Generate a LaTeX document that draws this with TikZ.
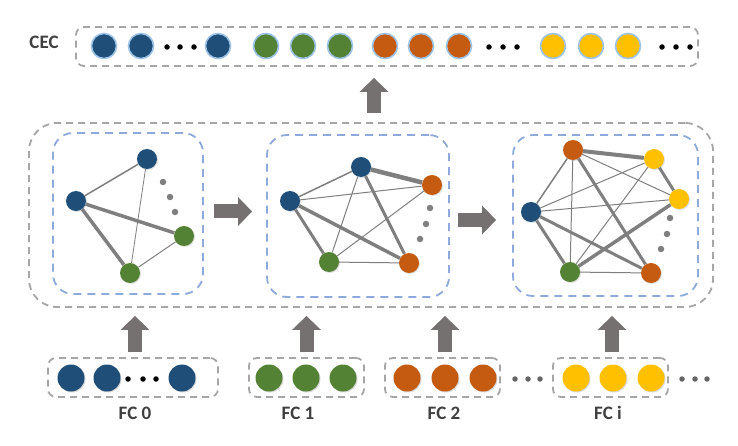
\documentclass[tikz,border=0pt]{standalone}
\usepackage{fontspec}
\setmainfont{Carlito}
\usetikzlibrary{shadows,arrows.meta,calc}
\definecolor{cblue}{HTML}{1F4E79}
\definecolor{cgreen}{HTML}{548235}
\definecolor{corange}{HTML}{C55A11}
\definecolor{cyellow}{HTML}{FFC000}
\definecolor{arrowgray}{HTML}{767171}
\definecolor{dashgray}{HTML}{A6A6A6}
\definecolor{dashblue}{HTML}{8EA9DB}
\definecolor{edgegray}{HTML}{7F7F7F}
\definecolor{glowc}{HTML}{9DC3E6}
\definecolor{txt}{HTML}{3F3F3F}
\tikzset{
  graybox/.style={draw=dashgray, line width=1.8pt, dash pattern=on 7pt off 5pt, rectangle, inner sep=0pt},
  bluebox/.style={draw=dashblue, line width=1.8pt, dash pattern=on 8pt off 6pt, rectangle, rounded corners=20pt, inner sep=0pt},
  ceccirc/.style={circle, minimum size=25pt, inner sep=0pt, draw=glowc, line width=1.6pt},
  fccirc/.style={circle, minimum size=27pt, inner sep=0pt, drop shadow={opacity=0.3, shadow xshift=1pt, shadow yshift=-1pt}},
  gnode/.style={circle, minimum size=20pt, inner sep=0pt, drop shadow={opacity=0.25, shadow xshift=1pt, shadow yshift=-1pt}},
  bdot/.style={circle, fill=black, minimum size=5.5pt, inner sep=0pt},
  gdot/.style={circle, fill=edgegray, minimum size=6.5pt, inner sep=0pt},
  edge/.style={draw=edgegray, line width=#1},
  blockarrow/.style={draw=arrowgray, line width=14pt, -{Triangle[width=28pt,length=14pt]}},
  lbl/.style={text=txt, font=\fontsize{19}{22}\selectfont\bfseries},
}
\begin{document}
\begin{tikzpicture}[x=1pt, y=-1pt]
\useasboundingbox (0,0) rectangle (738,446);

% CEC row
\node[lbl] (ceclbl) at (44,42) {CEC};
\node[graybox, rounded corners=8pt, minimum width=622pt, minimum height=39pt] (cec) at (387,46.5) {};
\foreach \x [count=\i] in {104,141,218}
  \node[ceccirc, fill=cblue] (cb\i) at (\x,46) {};
\foreach \x [count=\i] in {266,303,340}
  \node[ceccirc, fill=cgreen] (cg\i) at (\x,46) {};
\foreach \x [count=\i] in {385,421,459}
  \node[ceccirc, fill=corange] (co\i) at (\x,46) {};
\foreach \x [count=\i] in {553,591,628}
  \node[ceccirc, fill=cyellow] (cy\i) at (\x,46) {};
\foreach \x [count=\i] in {167,180,194,489,503,517,662,676,690}
  \node[bdot] (cd\i) at (\x,47) {};

% outer box and inner boxes
\node[graybox, rounded corners=28pt, minimum width=684pt, minimum height=184pt] (outer) at (371,215) {};
\node[bluebox, minimum width=150pt, minimum height=161pt] (box1) at (128,213.5) {};
\node[bluebox, minimum width=182pt, minimum height=162pt] (box2) at (358,216) {};
\node[bluebox, minimum width=185pt, minimum height=161pt] (box3) at (605.5,215.5) {};

% graph 1
\node[gnode, fill=cblue] (b1t) at (147,159) {};
\node[gnode, fill=cblue] (b1l) at (76,201) {};
\node[gnode, fill=cgreen] (g1r) at (184,236) {};
\node[gnode, fill=cgreen] (g1b) at (130,273) {};
\node[gdot] (d1a) at (163,182) {};
\node[gdot] (d1b) at (170,197) {};
\node[gdot] (d1c) at (175,212) {};
\draw[edge=1.5pt] (b1t) -- (b1l);
\draw[edge=0.8pt] (b1t) -- (g1b);
\draw[edge=3.5pt] (b1l) -- (g1r);
\draw[edge=3.5pt] (b1l) -- (g1b);
\draw[edge=1pt] (g1r) -- (g1b);

% graph 2
\node[gnode, fill=cblue] (b2t) at (361,167) {};
\node[gnode, fill=cblue] (b2l) at (290,201) {};
\node[gnode, fill=corange] (o2t) at (432,185) {};
\node[gnode, fill=corange] (o2b) at (409,263) {};
\node[gnode, fill=cgreen] (g2) at (329,262) {};
\node[gdot] (d2a) at (430,208) {};
\node[gdot] (d2b) at (426,224) {};
\node[gdot] (d2c) at (420,239) {};
\draw[edge=4.5pt] (b2t) -- (o2t);
\draw[edge=1.5pt] (b2t) -- (b2l);
\draw[edge=1pt] (b2t) -- (g2);
\draw[edge=3pt] (b2t) -- (o2b);
\draw[edge=1pt] (b2l) -- (o2t);
\draw[edge=3pt] (b2l) -- (g2);
\draw[edge=3.5pt] (b2l) -- (o2b);
\draw[edge=1pt] (g2) -- (o2t);
\draw[edge=1pt] (g2) -- (o2b);

% graph 3
\node[gnode, fill=corange] (o3t) at (573,150) {};
\node[gnode, fill=cyellow] (y3t) at (654,159) {};
\node[gnode, fill=cyellow] (y3r) at (679,199) {};
\node[gnode, fill=cblue] (b3) at (531,212) {};
\node[gnode, fill=cgreen] (g3) at (570,272) {};
\node[gnode, fill=corange] (o3b) at (651,273) {};
\node[gdot] (d3a) at (670,218) {};
\node[gdot] (d3b) at (667,234) {};
\node[gdot] (d3c) at (661,249) {};
\draw[edge=4pt] (o3t) -- (y3t);
\draw[edge=1.5pt] (o3t) -- (b3);
\draw[edge=1pt] (o3t) -- (g3);
\draw[edge=3pt] (o3t) -- (o3b);
\draw[edge=1pt] (o3t) -- (y3r);
\draw[edge=3pt] (y3t) -- (y3r);
\draw[edge=1pt] (y3t) -- (b3);
\draw[edge=1pt] (y3t) -- (g3);
\draw[edge=1pt] (b3) -- (y3r);
\draw[edge=3pt] (b3) -- (g3);
\draw[edge=3pt] (b3) -- (o3b);
\draw[edge=3.5pt] (g3) -- (y3r);
\draw[edge=1pt] (g3) -- (o3b);

% horizontal arrows
\draw[blockarrow, shorten <=10pt, shorten >=14pt] ([yshift=2pt]box1.east) -- ([yshift=2pt]box1.east -| box2.west);
\draw[blockarrow, shorten <=8pt, shorten >=16pt] ([yshift=-4pt]box2.east) -- ([yshift=-4pt]box2.east -| box3.west);

% arrow to CEC
\draw[blockarrow, shorten <=9pt, shorten >=11pt] ([xshift=3pt]outer.north) -- ([xshift=3pt]outer.north |- cec.south);

% bottom FC rows
\node[graybox, rounded corners=8pt, minimum width=170pt, minimum height=39pt] (fc0) at (133,377.5) {};
\node[graybox, rounded corners=8pt, minimum width=115pt, minimum height=39pt] (fc1) at (306.5,377.5) {};
\node[graybox, rounded corners=8pt, minimum width=115pt, minimum height=39pt] (fc2) at (442.5,377.5) {};
\node[graybox, rounded corners=8pt, minimum width=115pt, minimum height=39pt] (fci) at (610.5,377.5) {};
\foreach \x [count=\i] in {71,107,182}
  \node[fccirc, fill=cblue] (f0c\i) at (\x,378) {};
\foreach \x [count=\i] in {269,306,343}
  \node[fccirc, fill=cgreen] (f1c\i) at (\x,378) {};
\foreach \x [count=\i] in {407,445,483}
  \node[fccirc, fill=corange] (f2c\i) at (\x,378) {};
\foreach \x [count=\i] in {576,613,651}
  \node[fccirc, fill=cyellow] (fic\i) at (\x,378) {};
\foreach \x [count=\i] in {128,143,156}
  \node[bdot] (fd\i) at (\x,379) {};
\foreach \x [count=\i] in {515,528,540,682,695,707}
  \node[bdot, fill=txt!80] (fe\i) at (\x,379) {};

\node[lbl] (l0) at (135,413) {FC 0};
\node[lbl] (l1) at (298,413) {FC 1};
\node[lbl] (l2) at (444,413) {FC 2};
\node[lbl] (li) at (608,413) {FC i};

\draw[blockarrow, shorten <=5pt, shorten >=8pt] ([xshift=2pt]fc0.north) -- ([xshift=2pt]fc0.north |- outer.south);
\draw[blockarrow, shorten <=5pt, shorten >=8pt] (fc1.north) -- (fc1.north |- outer.south);
\draw[blockarrow, shorten <=5pt, shorten >=8pt] ([xshift=2.5pt]fc2.north) -- ([xshift=2.5pt]fc2.north |- outer.south);
\draw[blockarrow, shorten <=5pt, shorten >=8pt] ([xshift=1.5pt]fci.north) -- ([xshift=1.5pt]fci.north |- outer.south);
\end{tikzpicture}
\end{document}
